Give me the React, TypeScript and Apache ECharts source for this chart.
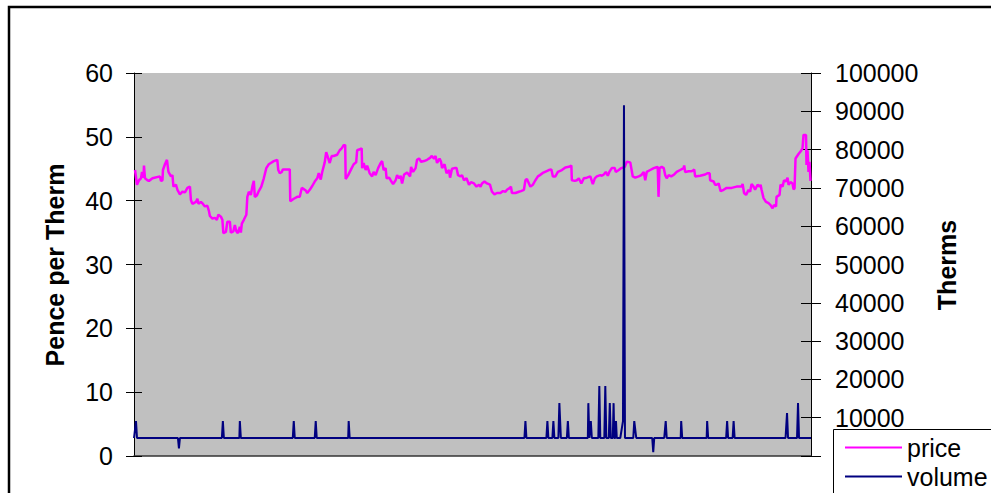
import React, { useEffect, useRef } from "react";
import * as echarts from "echarts";

// Price series (pence per therm): [day index, price]
const priceDays: number[] = [
  1, 3, 5, 7, 8, 9.5, 10, 11, 13.5, 15, 18.5, 26, 27, 28.5, 29, 31, 33, 34.5, 37, 38.5,
  39.5, 42, 43.5, 46, 48.5, 51, 53.5, 56, 57, 58.5, 62, 63.5, 64.5, 67, 68.5, 71, 73.5, 75, 76, 78.5,
  81, 83, 84.5, 87, 88.5, 89.5, 92, 93.5, 96, 97, 99.5, 101, 102.5, 104, 106, 107, 108, 110, 112.5, 113.5,
  115, 117, 118.5, 120, 121, 123, 125, 127.5, 130, 132.5, 135,
  137, 140, 143.5, 144.5, 146, 148, 149, 156, 156.5, 160, 163.5, 166, 168, 170, 172, 173.5, 176, 178.5, 181,
  183.5, 185, 187, 188.5, 191, 192.5, 194, 196, 198, 200, 203.5, 206, 208, 210, 211.5, 212, 214.5, 218, 220,
  222.5, 223.5, 227, 228, 228.5, 230, 232, 233.5, 236, 238.5, 240, 242, 244.5, 247, 248.5, 250, 252, 253,
  255.5, 257, 259.5, 262, 263.5, 265.5, 267, 268.5, 270.5,
  273.5, 276.5, 277.5, 279.5, 282, 283.5, 285.5, 287.5, 290.5, 293.5, 296.5, 298, 300.5, 302, 303.5, 306,
  307.5, 308.5, 311, 313, 315.5, 316.5, 318.5, 321, 323, 324.5, 327, 328.5, 330.5, 333, 335.5, 337.5, 340.5,
  343, 345.5, 347, 348.5, 351, 353.5, 356.5, 358.5, 361, 363.5, 367, 369.5, 372, 373.5, 376.5, 377.5, 378.5,
  382, 385.5, 387.5, 390.5, 392, 393.5, 395.5, 397, 399.5, 402, 404.5, 406.5,
  410, 415.5, 418, 419.5, 422, 424.5, 428.5, 432, 435.5, 438, 438.5, 441.5, 443.5, 445.5, 448, 450.5, 453.5,
  457, 459.5, 461.5, 463.5, 467, 468.5, 470.5, 472.5, 474.5, 476, 478.5, 481.5, 482.5, 485.5, 488, 491.5,
  493.5, 497, 499.5, 502, 505.5, 508, 510.5, 512, 513.5, 517, 520.5, 522.5, 524.5, 525.3, 526.3, 528.5,
  530.5, 532, 533.5, 535.5, 538, 541,
  543.5, 547, 550.5, 551, 552, 555.5, 558.5, 560.5, 561, 562, 567, 572, 574.5, 576.5, 577, 580.5, 582, 583.5,
  585.5, 587.5, 590.5, 593.5, 598.5, 603.5, 608.5, 609.5, 611, 613, 615.5, 617, 618.5, 620.5, 622, 624.5,
  626.5, 627.5, 628.5, 630.5, 633, 635.5, 637.5, 639.5, 641, 643, 643.5, 646.5, 647.5, 649.5, 651, 653,
  654.5, 655.5, 657.5, 659.5, 660.5, 661.5, 662.5, 665.5, 667.5, 669.5, 670.5, 673, 673.5, 674.5, 675.5,
  676.5, 677.5,
];
const priceValues: number[] = [
  44.8, 42.5, 43.2, 43.5, 44.5, 43.6, 45.5, 43.5, 43.2, 43.1, 43.5, 43.8, 43.1, 43.2, 44.8, 45.7, 46.4, 44.5, 43.8, 44.0,
  42.2, 42.5, 41.7, 41.0, 41.4, 41.3, 42.0, 42.2, 40.1, 39.5, 39.8, 40.3, 39.5, 39.8, 39.6, 39.1, 39.2, 38.4, 37.6, 37.2,
  37.3, 37.0, 37.8, 37.5, 37.0, 34.9, 35.1, 36.7, 36.7, 35.0, 35.2, 36.2, 35.2, 34.9, 35.9, 35.0, 36.4, 37.0, 37.8, 40.6,
  41.4, 40.9, 42.2, 43.1, 40.6, 40.8, 41.5, 42.2, 43.5, 45.1, 45.7,
  45.9, 46.2, 46.4, 44.8, 44.3, 44.5, 44.9, 44.9, 39.9, 40.3, 40.6, 40.6, 42.0, 41.8, 41.6, 41.2, 41.7, 42.3, 43.0,
  43.5, 44.3, 43.3, 44.5, 46.0, 47.6, 46.9, 45.9, 47.0, 47.0, 47.2, 47.9, 48.2, 48.7, 48.7, 43.4, 44.0, 45.1, 45.7,
  46.0, 47.9, 48.1, 48.2, 45.1, 45.9, 44.8, 45.5, 44.3, 43.8, 44.5, 44.0, 45.1, 45.9, 46.2, 44.8, 45.1, 43.5,
  43.6, 43.2, 42.6, 43.2, 44.0, 43.5, 43.9, 42.7, 44.1,
  44.4, 43.8, 45.3, 44.5, 45.1, 46.4, 46.6, 46.1, 46.2, 46.4, 46.7, 47.0, 46.6, 47.0, 45.9, 46.6,
  46.1, 45.1, 45.7, 44.3, 44.8, 43.6, 45.0, 45.1, 45.1, 44.0, 43.8, 44.0, 43.2, 43.5, 42.5, 42.9, 42.7,
  42.2, 42.5, 42.2, 42.7, 43.0, 42.7, 42.5, 41.4, 41.0, 41.2, 41.2, 41.5, 41.4, 41.7, 42.0, 42.2, 41.2,
  41.2, 41.4, 41.5, 41.7, 43.2, 43.4, 42.7, 42.2, 42.5, 43.2, 43.8, 44.0,
  44.4, 44.8, 44.9, 43.8, 43.8, 44.5, 44.8, 45.2, 45.3, 45.5, 43.2, 43.1, 43.2, 43.5, 42.7, 43.5, 43.6,
  43.8, 42.6, 43.5, 43.8, 44.0, 43.9, 44.1, 44.5, 43.9, 44.5, 45.1, 45.1, 44.5, 44.8, 45.1, 45.3,
  46.1, 46.0, 43.8, 43.6, 43.8, 44.0, 44.5, 43.2, 44.5, 44.8, 45.1, 45.2, 45.3, 40.6, 45.1, 45.3,
  45.1, 44.0, 43.5, 44.0, 43.8, 44.1,
  44.5, 44.8, 45.1, 45.5, 44.5, 44.6, 44.6, 44.8, 44.9, 43.8, 43.9, 44.1, 44.3, 44.3, 43.2, 43.0, 42.5, 42.5,
  42.7, 41.5, 41.7, 42.0, 42.0, 42.2, 42.2, 42.6, 41.2, 40.9, 41.7, 41.4, 42.6, 42.2, 41.7, 42.5,
  42.2, 42.5, 41.7, 40.4, 39.8, 39.6, 39.3, 38.8, 39.3, 39.1, 40.6, 40.9, 42.5, 42.2, 43.2, 43.0,
  43.6, 42.5, 42.9, 42.7, 41.8, 41.9, 46.6, 47.3, 47.7, 48.2, 50.3, 50.3, 45.6, 47.9, 44.5,
  46.1, 43.1,
];

// Volume series (therms): [day index, volume]
const volumeDays: number[] = [
  0, 2, 3, 44, 45, 46, 88, 89, 90, 105.5, 106, 107, 159, 160, 161, 181, 182, 183, 214.5, 215, 216,
  391, 392, 393, 413, 414, 415, 419, 420, 421, 425, 426, 427.5, 433.5, 434.5, 435.5,
  454.5, 455, 456, 457.5, 458.5, 465, 466, 467, 471, 472, 473, 475.5, 476.5, 477.5, 479.5, 480.3, 481,
  482, 482.7, 483.5, 487, 489.7, 490.7, 491.7, 500, 501, 503, 519, 520, 521, 531, 532.5, 533.5,
  547.5, 548, 549, 573.5, 574, 575, 593, 594, 595, 599.5, 600.5, 601.5, 652.5, 654, 655, 664, 665, 666, 678,
];
const volumeValues: number[] = [
  4700, 9100, 4700, 4700, 2000, 4700, 4700, 9100, 4700, 4700, 9100, 4700, 4700, 9100, 4700, 4700, 9100, 4700, 4700, 9100, 4700,
  4700, 9100, 4700, 4700, 9100, 4700, 4700, 9100, 4700, 4700, 13800, 4700, 4700, 9100, 4700,
  4700, 13800, 4700, 9100, 4700, 4700, 18300, 4700, 4700, 18300, 4700, 4700, 13800, 4700, 4700, 13800, 4700,
  4700, 9100, 4700, 4700, 9100, 91600, 4700, 4700, 9100, 4700, 4700, 1000, 4700, 4700, 9100, 4700,
  4700, 9100, 4700, 4700, 9100, 4700, 4700, 9100, 4700, 4700, 9100, 4700, 4700, 11200, 4700, 4700, 13800, 4700, 4700,
];

const seriesNames: string[] = ["price", "volume"];
const leftTicks = { min: 0, max: 60, interval: 10 };
const rightTicks = { min: 0, max: 100000, interval: 10000 };
const dayRange = { min: 0, max: 678 };

const FONT = "'Liberation Sans', Arial, sans-serif";

export default function App() {
  const ref = useRef<HTMLDivElement>(null);
  useEffect(() => {
    if (!ref.current) return;
    const chart = echarts.init(ref.current, undefined, { renderer: "svg" });
    const priceData = priceDays.map((d, i) => [d, priceValues[i]]);
    const volumeData = volumeDays.map((d, i) => [d, volumeValues[i]]);
    const labelStyle = { color: "#000", fontSize: 25, fontFamily: FONT };
    chart.setOption({
      animation: false,
      grid: {
        left: 134,
        right: 180,
        top: 73,
        bottom: 37,
        show: true,
        backgroundColor: "#C0C0C0",
        borderWidth: 0,
      },
      xAxis: {
        type: "value",
        min: dayRange.min,
        max: dayRange.max,
        axisLine: { show: true, onZero: false, lineStyle: { color: "#333", width: 1.5 } },
        axisTick: { show: false },
        axisLabel: { show: false },
        splitLine: { show: false },
      },
      yAxis: [
        {
          type: "value",
          position: "left",
          ...leftTicks,
          axisLine: { show: true, lineStyle: { color: "#000", width: 1 } },
          axisTick: { show: true, length: 8, lineStyle: { color: "#000" } },
          axisLabel: { ...labelStyle, margin: 21 },
          splitLine: { show: false },
        },
        {
          type: "value",
          position: "right",
          ...rightTicks,
          axisLine: { show: true, lineStyle: { color: "#000", width: 1 } },
          axisTick: { show: true, length: 10, lineStyle: { color: "#000" } },
          axisLabel: { ...labelStyle, margin: 24, formatter: (v: number) => String(v) },
          splitLine: { show: false },
        },
        {
          type: "value",
          position: "left",
          ...leftTicks,
          axisLine: { show: false },
          axisTick: { show: true, inside: true, length: 8, lineStyle: { color: "#000" } },
          axisLabel: { show: false },
          splitLine: { show: false },
        },
        {
          type: "value",
          position: "right",
          ...rightTicks,
          axisLine: { show: false },
          axisTick: { show: true, inside: true, length: 10, lineStyle: { color: "#000" } },
          axisLabel: { show: false },
          splitLine: { show: false },
        },
      ],
      legend: {
        orient: "vertical",
        left: 845,
        top: 435,
        padding: 0,
        z: 30,
        icon: "rect",
        itemWidth: 57,
        itemHeight: 2,
        itemGap: 4,
        textStyle: { color: "#000", fontSize: 25, fontFamily: FONT, lineHeight: 25 },
        data: seriesNames,
      },
      graphic: [
        {
          type: "rect",
          z: 20,
          shape: { x: 9, y: 7, width: 1100, height: 700 },
          style: { fill: "none", stroke: "#000", lineWidth: 2.5 },
          silent: true,
        },
        {
          type: "rect",
          z: 20,
          shape: { x: 833.5, y: 429.5, width: 300, height: 200 },
          style: { fill: "#fff", stroke: "#000", lineWidth: 1 },
          silent: true,
        },
        {
          type: "text",
          x: 55,
          y: 265,
          rotation: Math.PI / 2,
          style: {
            text: "Pence per Therm",
            fill: "#000",
            font: `bold 25px ${FONT}`,
            align: "center",
            verticalAlign: "middle",
          },
        },
        {
          type: "text",
          x: 947,
          y: 265,
          rotation: Math.PI / 2,
          style: {
            text: "Therms",
            fill: "#000",
            font: `bold 25px ${FONT}`,
            align: "center",
            verticalAlign: "middle",
          },
        },
      ],
      series: [
        {
          name: seriesNames[0],
          type: "line",
          yAxisIndex: 0,
          data: priceData,
          symbol: "none",
          lineStyle: { color: "#FF00FF", width: 2.5 },
          itemStyle: { color: "#FF00FF" },
          z: 3,
        },
        {
          name: seriesNames[1],
          type: "line",
          yAxisIndex: 1,
          data: volumeData,
          symbol: "none",
          lineStyle: { color: "#000080", width: 2 },
          itemStyle: { color: "#000080" },
          z: 4,
        },
      ],
    });
    return () => chart.dispose();
  }, []);
  return (
    <div
      ref={ref}
      style={{ position: "fixed", left: 0, top: 0, width: 991, height: 493, background: "#fff" }}
    />
  );
}
